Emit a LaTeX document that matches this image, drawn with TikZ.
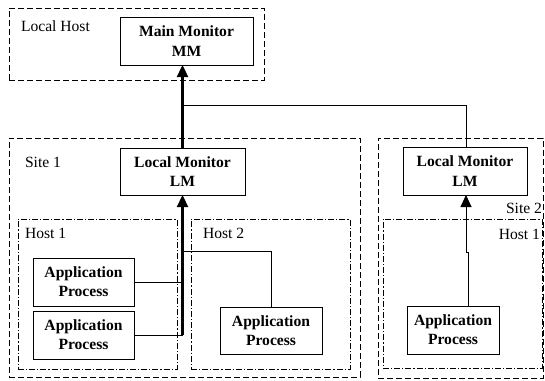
\documentclass[tikz,border=0pt]{standalone}
\usepackage{fontspec}
\setmainfont{Liberation Serif}
\usetikzlibrary{arrows.meta}
\begin{document}
\begin{tikzpicture}[x=1pt,y=-1pt,
  every node/.style={inner sep=0pt, outer sep=0pt},
  box/.style={draw, line width=0.9pt, align=center, font=\fontsize{15.6}{19.3}\selectfont\bfseries},
  sitebox/.style={draw, line width=0.8pt, dash pattern=on 6pt off 3pt},
  hostbox/.style={draw, line width=0.8pt, dash pattern=on 6pt off 2pt on 1.2pt off 2pt},
  lbl/.style={font=\fontsize{15.6}{19.3}\selectfont},
  wire/.style={line width=0.9pt},
  bus/.style={line width=2.3pt},
  tip/.style={-{Triangle[width=11pt,length=12pt]}}
]
\useasboundingbox (0,0) rectangle (545,380);

% containers
\node[sitebox, minimum width=255pt, minimum height=72pt] (lhost) at (136.5,44) {};
\node[sitebox, minimum width=351pt, minimum height=239pt] (site1) at (184.5,257.5) {};
\node[sitebox, minimum width=165pt, minimum height=240pt] (site2) at (460.5,258) {};
\node[hostbox, minimum width=159pt, minimum height=150pt] (h11) at (97.5,294) {};
\node[hostbox, minimum width=159pt, minimum height=150pt] (h12) at (270.5,294) {};
\node[hostbox, minimum width=159pt, minimum height=149pt] (h21) at (462.5,293.5) {};

% container labels
\node[lbl, anchor=west] (tlh) at (21,26) {Local Host};
\node[lbl, anchor=west] (ts1) at (25,162) {Site 1};
\node[lbl, anchor=west] (th11) at (25,233) {Host 1};
\node[lbl, anchor=west] (th12) at (203,233) {Host 2};
\node[lbl, anchor=east] (ts2) at (542,208) {Site 2};
\node[lbl, anchor=east] (th21) at (540,234) {Host 1};

% monitors and processes
\node[box, minimum width=133pt, minimum height=48pt] (mm) at (186.5,41) {Main Monitor\\MM};
\node[box, minimum width=125pt, minimum height=47pt] (lm1) at (182.5,171.5) {Local Monitor\\LM};
\node[box, minimum width=124pt, minimum height=48pt] (lm2) at (465,171) {Local Monitor\\LM};
\node[box, minimum width=101pt, minimum height=48pt] (ap1) at (83.5,282) {Application\\Process};
\node[box, minimum width=101pt, minimum height=48pt] (ap2) at (83.5,335) {Application\\Process};
\node[box, minimum width=102pt, minimum height=47pt] (ap3) at (271,330.5) {Application\\Process};
\node[box, minimum width=92pt, minimum height=48pt] (ap4) at (453,330) {Application\\Process};

% junction points
\coordinate (j1) at (182.5,105);
\coordinate (j2) at (466,105);
\coordinate (b1) at (182.5,335);
\coordinate (k1) at (468,252);
\coordinate (k2) at (466,252);

% site 1 wiring
\draw[bus, tip] (b1) -- (lm1.south);
\draw[wire] (ap1.east) -- (ap1.east -| b1);
\draw[wire] (ap2.east) -- (b1);
\draw[wire] (ap3.north) -- (ap3.north |- 0,251) -- (182.5,251);

% site 2 wiring
\draw[wire, tip] (ap4.north -| k1) -- (k1) -- (k2) -- (lm2.south -| k2);

% monitors to main monitor
\draw[bus, tip] (lm1.north) -- (mm.south -| lm1.north);
\draw[wire] (j1) -- (j2) -- (lm2.north -| j2);
\end{tikzpicture}
\end{document}
